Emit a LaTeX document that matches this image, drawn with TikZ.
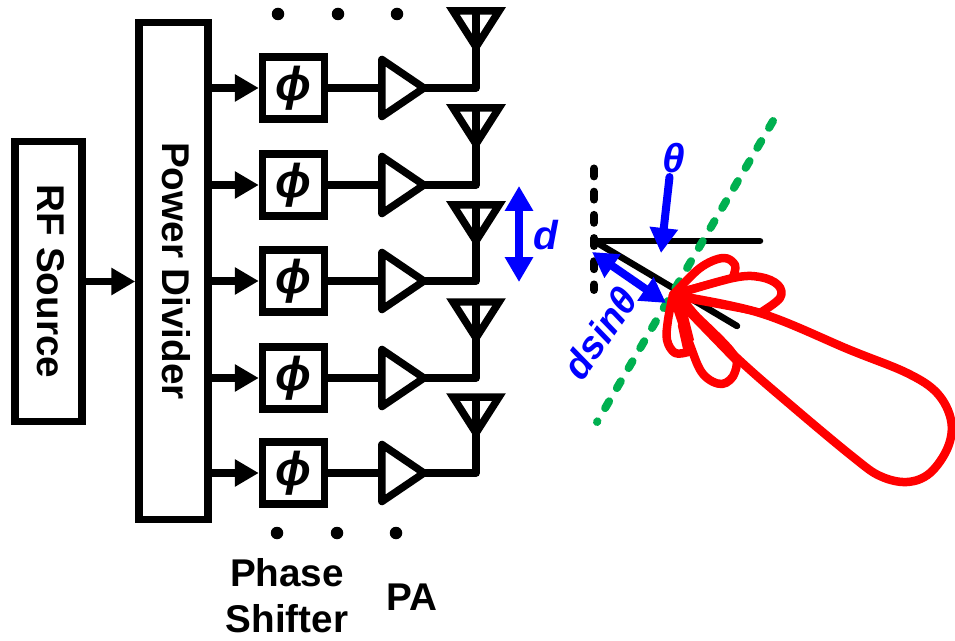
\documentclass[tikz,border=0pt]{standalone}
\usepackage{fontspec}
\setmainfont{Liberation Sans}
\usetikzlibrary{arrows.meta,shapes.geometric}
\tikzset{
  wire/.style={line width=0.15cm,line join=round},
  feed/.style={wire,-{Triangle[length=0.48cm,width=0.52cm]}},
  twoway/.style={line width=0.16cm,color=phase_blue,{Triangle[length=0.5cm,width=0.54cm]}-{Triangle[length=0.5cm,width=0.54cm]}},
  blockbox/.style={shape=rectangle,draw,line width=0.15cm,inner sep=0,font=\fontsize{22}{26}\selectfont\bfseries},
  phibox/.style={blockbox,minimum width=1.24cm,minimum height=1.24cm,font=\fontsize{27}{28}\selectfont\bfseries\itshape},
  pabox/.style={shape=isosceles triangle,isosceles triangle stretches,draw,line width=0.15cm,line join=round,inner sep=0,outer sep=0,minimum width=1.14cm,minimum height=0.84cm},
  dot/.style={shape=circle,fill,inner sep=0,minimum size=0.25cm},
  tag/.style={font=\fontsize{22}{26}\selectfont\bfseries},
  bluetag/.style={color=phase_blue,font=\fontsize{23}{26}\selectfont\bfseries\itshape},
  dashline/.style={line width=0.16cm,line cap=round,dash pattern=on 4.5pt off 8.7pt},
  lobe/.style={line width=0.17cm,color=red,line join=round,line cap=round}
}
\begin{document}
\begin{tikzpicture}[x=0.02cm,y=-0.02cm]
\definecolor{phase_blue}{RGB}{0,0,255}
\definecolor{wave_green}{RGB}{0,176,80}
\useasboundingbox (0,0) rectangle (955,641);

\node[blockbox,rotate=-90,text depth=3.4pt,minimum width=5.6cm,minimum height=1.34cm] (rfsource) at (48.5,281.5) {RF Source};
\node[blockbox,rotate=-90,text depth=3.4pt,minimum width=9.94cm,minimum height=1.38cm] (divider) at (173.5,271) {Power Divider};
\draw[feed] (rfsource.north) -- (rfsource.north -| divider.south);

% one row per antenna
\foreach \i/\y/\t in {1/88/11,2/185/108,3/281/205,4/378/302,5/473/397} {
  \node[phibox] (box\i) at (293.5,\y) {ϕ};
  \node[pabox] (pa\i) at (397,\y) {};
  \coordinate (ant\i) at (476,\t+36);
  \draw[feed] (box\i.west -| divider.north) -- (box\i.west);
  \draw[wire] (box\i.east) -- (pa\i.west);
  \draw[wire] (pa\i.apex) -| (ant\i);
  \draw[line width=0.15cm] (ant\i) -- ++(-23,-36) -- ++(46,0) -- cycle;
  \draw[line width=0.15cm] (ant\i) -- ++(0,-36);
}

\node[dot] (top1) at (278,14) {};
\node[dot] (top2) at (338,14) {};
\node[dot] (top3) at (397,14) {};
\node[dot] (bot1) at (277,533) {};
\node[dot] (bot2) at (337,533) {};
\node[dot] (bot3) at (396,533) {};

\node[tag,align=center] (shifterlabel) at (287,596) {Phase\\Shifter};
\node[tag] (palabel) at (412,597) {PA};

% spacing arrow
\coordinate (dtop) at (519,186);
\coordinate (dbot) at (519,282);
\draw[twoway] (dtop) to (dbot);
\node[bluetag] (dlabel) at (546,235) {d};

% wave front
\coordinate (normaltop) at (594,168.5);
\coordinate (normalbot) at (594,290);
\coordinate (origin) at (594,241);
\coordinate (horiz) at (760,241);
\coordinate (beam) at (737,326);
\coordinate (fronttop) at (773,121);
\coordinate (frontbot) at (597,422);
\coordinate (lobecentre) at (673,295);
\draw[dashline] (normaltop) to (normalbot);
\draw[line width=0.13cm,line cap=round] (origin) to (horiz);
\draw[line width=0.13cm,line cap=round] (origin) to (beam);
\draw[dashline,color=wave_green] (fronttop) to (frontbot);

% radiation pattern
\draw[lobe] plot[smooth,tension=0.6] coordinates {(lobecentre) (760,313) (850,350) (907,373) (937,393) (951,420) (948,447) (930,473) (907,482) (880,476) (853,457) (793,407) (737,358) (lobecentre)};
\draw[lobe] plot[smooth,tension=0.6] coordinates {(lobecentre) (700,268) (723,258) (735,265) (733,277)};
\draw[lobe] plot[smooth,tension=0.6] coordinates {(lobecentre) (733,278) (760,277) (778,285) (780,298) (760,313)};
\draw[lobe] plot[smooth,tension=0.6] coordinates {(lobecentre) (730,350) (735,372) (722,384) (703,374) (690,345) (lobecentre)};
\draw[lobe] plot[smooth,tension=0.6] coordinates {(lobecentre) (668,320) (667,340) (675,353) (688,352)};
\draw[lobe] (688,352) to (682,325);
\fill[red] (672,290) -- (762,309) -- (760,316) -- (674,300) -- cycle;
\fill[red] (670,298) -- (678,288) -- (740,362) -- (732,362) -- cycle;
\fill[red] (670,295) -- (682,292) -- (694,340) -- (688,345) -- cycle;
\fill[red] (672,290) -- (733,274) -- (733,281) -- (676,298) -- cycle;

% angle and path difference
\coordinate (thetatop) at (669.5,177);
\coordinate (thetatip) at (661,253);
\draw[line width=0.16cm,color=phase_blue,line cap=round,-{Triangle[length=0.5cm,width=0.54cm]}] (thetatop) to (thetatip);
\node[bluetag] (thetalabel) at (674,158) {θ};
\coordinate (pathstart) at (592,252);
\coordinate (pathend) at (666,303);
\draw[twoway] (pathstart) to (pathend);
\node[bluetag,rotate=55,font=\fontsize{22}{26}\selectfont\bfseries\itshape] (pathlabel) at (600,333) {dsinθ};
\end{tikzpicture}
\end{document}
